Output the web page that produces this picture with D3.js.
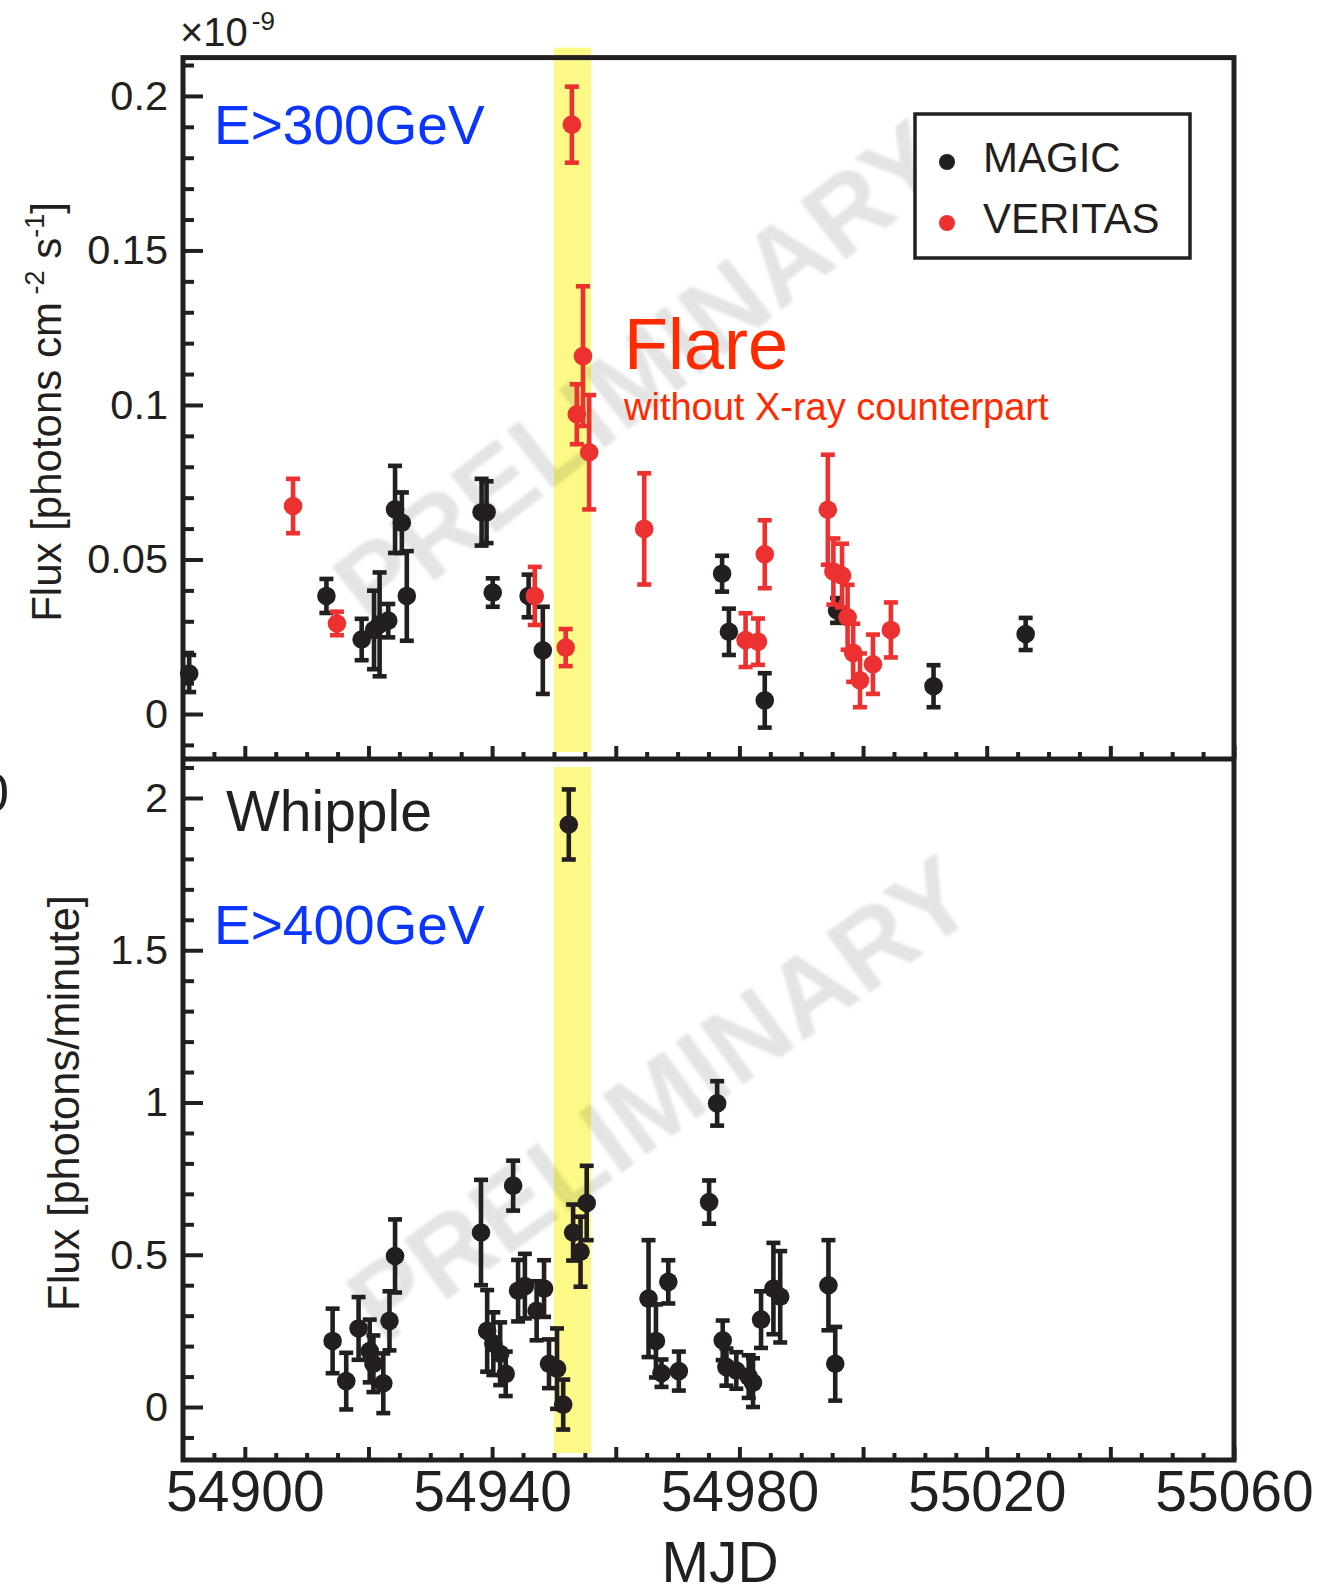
<!DOCTYPE html>
<html>
<head>
<meta charset="utf-8">
<script src="https://cdn.jsdelivr.net/npm/d3@7"></script>
<style>
  html, body { margin: 0; padding: 0; background: #fff; }
  svg { display: block; }
</style>
</head>
<body>
<svg id="chart" width="1340" height="1584"></svg>
<script>
// ---------- light curve data (MJD, flux, 1-sigma error) ----------
// MAGIC, E>300 GeV  [1e-9 photons cm^-2 s^-1]
const magicMjd  = [54891.0, 54913.2, 54918.9, 54920.9, 54921.8, 54923.2, 54924.3, 54925.4, 54926.2,
                   54938.3, 54939.1, 54940.1, 54945.9, 54948.2, 54977.2, 54978.3, 54984.1, 54995.8,
                   55011.4, 55026.3];
const magicFlux = [0.0131, 0.0382, 0.0241, 0.0272, 0.0290, 0.0302, 0.0662, 0.0619, 0.0382,
                   0.0653, 0.0653, 0.0393, 0.0382, 0.0206, 0.0454, 0.0266, 0.0044, 0.0335,
                   0.0090, 0.0259];
const magicErr  = [0.0060, 0.0055, 0.0067, 0.0127, 0.0168, 0.0054, 0.0141, 0.0098, 0.0145,
                   0.0108, 0.0100, 0.0046, 0.0069, 0.0141, 0.0058, 0.0075, 0.0088, 0.0040,
                   0.0068, 0.0052];

// VERITAS, E>300 GeV  [1e-9 photons cm^-2 s^-1]
const veritasMjd  = [54907.8, 54914.9, 54946.9, 54951.9, 54952.9, 54953.7, 54954.7, 54955.7, 54964.6,
                     54981.0, 54983.0, 54984.1, 54994.3, 54995.2, 54996.6, 54997.5, 54998.4, 54999.5,
                     55001.6, 55004.5];
const veritasFlux = [0.0673, 0.0293, 0.0382, 0.0215, 0.1907, 0.0970, 0.1158, 0.0847, 0.0599,
                     0.0239, 0.0234, 0.0517, 0.0661, 0.0461, 0.0448, 0.0313, 0.0198, 0.0109,
                     0.0161, 0.0272];
const veritasErr  = [0.0088, 0.0038, 0.0094, 0.0060, 0.0123, 0.0097, 0.0226, 0.0185, 0.0180,
                     0.0087, 0.0075, 0.0110, 0.0178, 0.0107, 0.0103, 0.0105, 0.0094, 0.0087,
                     0.0096, 0.0089];

// Whipple, E>400 GeV  [photons/minute]
const whippleMjd  = [54914.2, 54916.4, 54918.4, 54920.2, 54920.8, 54922.4, 54923.4, 54924.3,
                     54938.2, 54939.2, 54940.2, 54941.3, 54942.2, 54943.4, 54944.2, 54945.3,
                     54947.2, 54948.4, 54949.2, 54950.5, 54951.5, 54952.4, 54953.1, 54954.3,
                     54955.3, 54965.3, 54966.5, 54967.4, 54968.5, 54970.2, 54975.1, 54976.4,
                     54977.3, 54977.9, 54979.5, 54981.5, 54982.2, 54983.5, 54985.5, 54986.6,
                     54994.4, 54995.5];
const whippleFlux = [0.217, 0.085, 0.258, 0.184, 0.142, 0.078, 0.283, 0.496,
                     0.573, 0.250, 0.208, 0.175, 0.109, 0.727, 0.382, 0.397,
                     0.316, 0.389, 0.142, 0.126, 0.008, 1.913, 0.573, 0.510,
                     0.670, 0.356, 0.217, 0.111, 0.411, 0.118, 0.673, 0.997,
                     0.219, 0.131, 0.120, 0.100, 0.080, 0.287, 0.389, 0.362,
                     0.400, 0.142];
const whippleErr  = [0.106, 0.093, 0.103, 0.103, 0.093, 0.098, 0.097, 0.120,
                     0.173, 0.134, 0.103, 0.103, 0.073, 0.082, 0.101, 0.106,
                     0.097, 0.093, 0.080, 0.132, 0.082, 0.115, 0.092, 0.115,
                     0.122, 0.192, 0.120, 0.045, 0.071, 0.064, 0.071, 0.073,
                     0.065, 0.061, 0.060, 0.070, 0.080, 0.093, 0.150, 0.150,
                     0.148, 0.121];

// flare interval (MJD)
const flareBand = [54950, 54956];

// axes
const xMajorTicks = [54900, 54920, 54940, 54960, 54980, 55000, 55020, 55040, 55060];
const xTickLabels = [54900, 54940, 54980, 55020, 55060];
const topTickValues = [0, 0.05, 0.1, 0.15, 0.2];
const topTickLabels = ["0", "0.05", "0.1", "0.15", "0.2"];
const bottomTickValues = [0, 0.5, 1, 1.5, 2];
const bottomTickLabels = ["0", "0.5", "1", "1.5", "2"];

// ---------- layout ----------
const INK = "#231f20";
const RED = "#ec3130";
const BLUE = "#0a36ff";
const TEXT_RED = "#ff2a00";
const FONT = "'Liberation Sans', Arial, Helvetica, sans-serif";

const L = 183, R = 1234, T = 57.6, MID = 759, B = 1460;

const svg = d3.select("#chart");

const x = d3.scaleLinear().domain([54890, 55060]).range([L, R]);
const yTop = d3.scaleLinear().domain([-0.01456, 0.2124]).range([MID, T]);
const yBot = d3.scaleLinear().domain([-0.174, 2.128]).range([B, MID]);

const xMinorTicks = d3.range(54895, 55060, 5).filter(v => !xMajorTicks.includes(v));
const topMinor = d3.range(-1, 22).map(i => i / 100)
  .filter(v => Math.abs(Math.round(v * 100) % 5) !== 0);
const bottomMinor = d3.range(-1, 22).map(i => i / 10)
  .filter(v => Math.abs(Math.round(v * 10) % 5) !== 0);

// ---------- flare band ----------
const band = svg.append("g").attr("fill", "#fcf986");
band.append("rect")
  .attr("x", x(flareBand[0])).attr("width", x(flareBand[1]) - x(flareBand[0]))
  .attr("y", T - 10).attr("height", (MID - 7) - (T - 10));
band.append("rect")
  .attr("x", x(flareBand[0])).attr("width", x(flareBand[1]) - x(flareBand[0]))
  .attr("y", MID + 8).attr("height", (B - 7) - (MID + 8));

// ---------- watermark ----------
const defs = svg.append("defs");
defs.append("filter").attr("id", "soft")
  .append("feGaussianBlur").attr("stdDeviation", 1.6);

function stamp(cx, cy, angle) {
  svg.append("text")
    .attr("transform", `translate(${cx},${cy}) rotate(${angle})`)
    .attr("text-anchor", "middle")
    .attr("dy", "0.35em")
    .attr("font-family", FONT)
    .attr("font-weight", "bold")
    .attr("font-size", 108)
    .attr("fill", "#000")
    .attr("fill-opacity", 0.105)
    .attr("filter", "url(#soft)")
    .text("PRELIMINARY");
}
stamp(640, 372, -38);
stamp(660, 1098, -36);

// ---------- axes ----------
function styleAxis(g) {
  g.select(".domain").remove();
  g.selectAll("line").attr("stroke", INK).attr("stroke-width", 4);
  g.selectAll("text").attr("fill", INK).attr("font-family", FONT);
}

// top panel, y
svg.append("g").attr("transform", `translate(${L},0)`)
  .call(d3.axisLeft(yTop).tickValues(topTickValues)
    .tickFormat((d, i) => topTickLabels[i]).tickSizeInner(-20).tickSizeOuter(0).tickPadding(15))
  .call(styleAxis)
  .call(g => g.selectAll("text").attr("font-size", 41.5));
svg.append("g").attr("transform", `translate(${L},0)`)
  .call(d3.axisLeft(yTop).tickValues(topMinor).tickFormat("").tickSizeInner(-11).tickSizeOuter(0))
  .call(styleAxis);

// bottom panel, y
svg.append("g").attr("transform", `translate(${L},0)`)
  .call(d3.axisLeft(yBot).tickValues(bottomTickValues)
    .tickFormat((d, i) => bottomTickLabels[i]).tickSizeInner(-20).tickSizeOuter(0).tickPadding(15))
  .call(styleAxis)
  .call(g => g.selectAll("text").attr("font-size", 41.5));
svg.append("g").attr("transform", `translate(${L},0)`)
  .call(d3.axisLeft(yBot).tickValues(bottomMinor).tickFormat("").tickSizeInner(-11).tickSizeOuter(0))
  .call(styleAxis);

// x ticks on the shared separator (top panel) and on the bottom axis
[MID, B].forEach((yy, k) => {
  svg.append("g").attr("transform", `translate(0,${yy})`)
    .call(d3.axisBottom(x).tickValues(xMajorTicks)
      .tickFormat(d => (k === 1 && xTickLabels.includes(d)) ? String(d) : "")
      .tickSizeInner(-13).tickSizeOuter(0).tickPadding(11))
    .call(styleAxis)
    .call(g => g.selectAll("text").attr("font-size", 57));
  svg.append("g").attr("transform", `translate(0,${yy})`)
    .call(d3.axisBottom(x).tickValues(xMinorTicks).tickFormat("").tickSizeInner(-7).tickSizeOuter(0))
    .call(styleAxis);
});

// frame
svg.append("rect")
  .attr("x", L).attr("y", T).attr("width", R - L).attr("height", B - T)
  .attr("fill", "none").attr("stroke", INK).attr("stroke-width", 5);
svg.append("line")
  .attr("x1", L).attr("x2", R).attr("y1", MID).attr("y2", MID)
  .attr("stroke", INK).attr("stroke-width", 5);

// ---------- data ----------
function drawSeries(mjd, flux, err, yScale, color) {
  const pts = mjd.map((m, i) => ({ m, v: flux[i], e: err[i] }));
  const g = svg.append("g").attr("stroke", color).attr("fill", color);
  const cap = 7;
  const item = g.selectAll("g.pt").data(pts).join("g").attr("class", "pt");
  item.append("line")
    .attr("x1", d => x(d.m)).attr("x2", d => x(d.m))
    .attr("y1", d => yScale(d.v - d.e)).attr("y2", d => yScale(d.v + d.e))
    .attr("stroke-width", 4.6);
  item.append("line")
    .attr("x1", d => x(d.m) - cap).attr("x2", d => x(d.m) + cap)
    .attr("y1", d => yScale(d.v + d.e)).attr("y2", d => yScale(d.v + d.e))
    .attr("stroke-width", 4.6);
  item.append("line")
    .attr("x1", d => x(d.m) - cap).attr("x2", d => x(d.m) + cap)
    .attr("y1", d => yScale(d.v - d.e)).attr("y2", d => yScale(d.v - d.e))
    .attr("stroke-width", 4.6);
  item.append("circle")
    .attr("cx", d => x(d.m)).attr("cy", d => yScale(d.v))
    .attr("r", 9.3).attr("stroke", "none");
}
drawSeries(magicMjd, magicFlux, magicErr, yTop, INK);
drawSeries(veritasMjd, veritasFlux, veritasErr, yTop, RED);
drawSeries(whippleMjd, whippleFlux, whippleErr, yBot, INK);

// ---------- text ----------
function label(txt, px, py, size, color, anchor) {
  return svg.append("text")
    .attr("x", px).attr("y", py)
    .attr("font-family", FONT).attr("font-size", size)
    .attr("fill", color).attr("text-anchor", anchor || "start")
    .text(txt);
}

// exponent above the top y axis
const expo = svg.append("text").attr("x", 180).attr("y", 46)
  .attr("font-family", FONT).attr("font-size", 40).attr("fill", INK);
expo.append("tspan").text("\u00d710");
expo.append("tspan").attr("font-size", 26).attr("dx", 4).attr("dy", -16).text("-9");

label("E>300GeV", 214, 144, 55, BLUE);
label("Flare", 624, 369, 72, TEXT_RED);
label("without X-ray counterpart", 624, 420, 38, TEXT_RED);
label("Whipple", 226, 831, 57, INK);
label("E>400GeV", 214, 944, 55, BLUE);

// axis titles
label("MJD", 720, 1582, 57, INK, "middle");

const yt1 = svg.append("text")
  .attr("transform", "translate(61,412) rotate(-90)")
  .attr("text-anchor", "middle")
  .attr("font-family", FONT).attr("font-size", 42).attr("fill", INK);
yt1.append("tspan").text("Flux [photons cm");
yt1.append("tspan").attr("font-size", 27).attr("dy", -17).text(" -2");
yt1.append("tspan").attr("dy", 17).text(" s");
yt1.append("tspan").attr("font-size", 27).attr("dy", -17).text("-1");
yt1.append("tspan").attr("dy", 17).text("]");

svg.append("text")
  .attr("transform", "translate(79,1103) rotate(-90)")
  .attr("text-anchor", "middle")
  .attr("font-family", FONT).attr("font-size", 43.5).attr("fill", INK)
  .text("Flux [photons/minute]");

// stray glyph at the left edge
label("0", 9, 811, 54, INK, "end");

// ---------- legend ----------
const leg = svg.append("g");
leg.append("rect")
  .attr("x", 915).attr("y", 114).attr("width", 275).attr("height", 144)
  .attr("fill", "#fff").attr("stroke", INK).attr("stroke-width", 3.5);
const legendItems = [["MAGIC", INK, 162, 172], ["VERITAS", RED, 223, 233]];
legendItems.forEach(([name, col, cy, by]) => {
  leg.append("circle").attr("cx", 947).attr("cy", cy).attr("r", 8).attr("fill", col);
  leg.append("text").attr("x", 983).attr("y", by)
    .attr("font-family", FONT).attr("font-size", 42).attr("fill", INK).text(name);
});
</script>
</body>
</html>
